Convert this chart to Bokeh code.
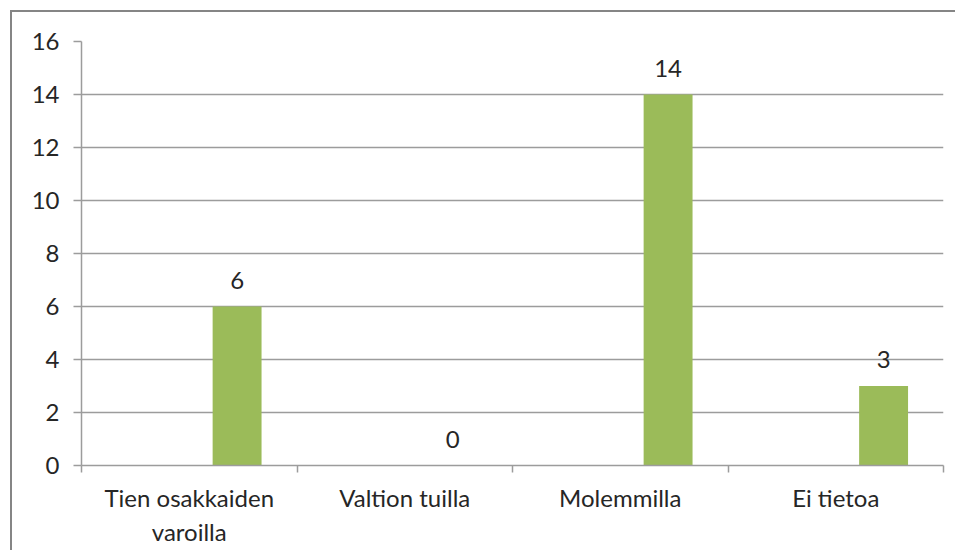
from bokeh.plotting import figure
from bokeh.models import Range1d, FixedTicker, LabelSet, ColumnDataSource
from bokeh.core.properties import value
from bokeh.embed import file_html
from bokeh.resources import INLINE

categories = ["Tien osakkaiden\nvaroilla", "Valtion tuilla", "Molemmilla", "Ei tietoa"]
values = [6, 0, 14, 3]
y_ticks = [0, 2, 4, 6, 8, 10, 12, 14, 16]

FONT = "Lato"
TEXT = "#262626"
GRID = "#9c9c9c"
BAR = "#9BBB59"
EDGE = "#858585"

n = len(categories)
src = ColumnDataSource(dict(
    x=[i + 0.722 for i in range(n)],
    value=values,
    label=[str(v) for v in values],
))

p = figure(frame_width=862, frame_height=424,
           min_border_left=81, min_border_right=15, min_border_top=41, min_border_bottom=85,
           x_range=Range1d(0, n), y_range=Range1d(0, 16),
           output_backend="svg", toolbar_location=None, tools="")
p.outline_line_color = None
p.border_fill_color = None
p.background_fill_color = "white"
# outer chart border (its right/bottom edges lie outside the window in the reference)
p.styles = {
    "overflow": "hidden",
    "clip-path": "inset(0px 3px 0px 0px)",
    "background-color": "white",
    "background-image": (f"linear-gradient({EDGE}, {EDGE}), "
                         f"linear-gradient({EDGE}, {EDGE})"),
    "background-position": "10px 10px, 10px 10px",
    "background-size": "2px 3000px, 3000px 2px",
    "background-repeat": "no-repeat, no-repeat",
}

p.vbar(x="x", top="value", width=0.227, source=src, fill_color=BAR, line_color=None)

labels = LabelSet(x="x", y="value", text="label", source=src, y_offset=18,
                  text_align="center", text_baseline="alphabetic",
                  text_font=value(FONT), text_font_size=value("24px"), text_color=value(TEXT))
p.add_layout(labels)

# grid
p.xgrid.visible = False
p.ygrid.ticker = FixedTicker(ticks=y_ticks)
p.ygrid.grid_line_color = GRID
p.ygrid.grid_line_width = 1.5

# y axis
p.yaxis.ticker = FixedTicker(ticks=y_ticks)
p.yaxis.axis_line_color = GRID
p.yaxis.axis_line_width = 1.5
p.yaxis.major_tick_line_color = GRID
p.yaxis.major_tick_line_width = 1.5
p.yaxis.major_tick_out = 8
p.yaxis.major_tick_in = 0
p.yaxis.minor_tick_line_color = None
p.yaxis.major_label_standoff = 14
p.yaxis.major_label_text_font = FONT
p.yaxis.major_label_text_font_size = "24px"
p.yaxis.major_label_text_color = TEXT

# x axis: labels at category centres, ticks at boundaries
centers = [i + 0.5 for i in range(n)]
p.xaxis.ticker = FixedTicker(ticks=centers, minor_ticks=list(range(n + 1)))
p.xaxis.major_label_overrides = {c: lab for c, lab in zip(centers, categories)}
p.xaxis.axis_line_color = GRID
p.xaxis.axis_line_width = 1.5
p.xaxis.major_tick_out = 0
p.xaxis.major_tick_in = 0
p.xaxis.minor_tick_line_color = GRID
p.xaxis.minor_tick_line_width = 1.5
p.xaxis.minor_tick_out = 7
p.xaxis.minor_tick_in = 0
p.xaxis.major_label_standoff = 10
p.xaxis.major_label_text_font = FONT
p.xaxis.major_label_text_font_size = "24px"
p.xaxis.major_label_text_color = TEXT
p.xaxis.major_label_text_line_height = 1.2

open("out.html", "w").write(file_html(p, INLINE))
